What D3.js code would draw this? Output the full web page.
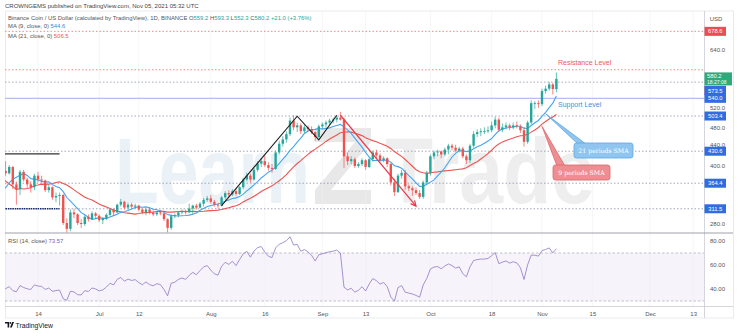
<!DOCTYPE html>
<html><head><meta charset="utf-8">
<script src="https://cdn.jsdelivr.net/npm/d3@7"></script>
<style>
body{margin:0;background:#fff;}
svg{display:block;font-family:"Liberation Sans",Arial,sans-serif;}
</style></head><body>
<svg id="chart" width="740" height="336"></svg>
<script>
// BNB/USD daily candles, [open, high, low, close], one list per month
const firstDay = "2021-05-15";
const may = [
  [590,600,540,555],[555,570,490,520],[520,525,440,470],[470,510,465,490],[490,495,211,340],
  [340,400,300,390],[390,400,300,340],[340,345,305,325],[325,330,230,285],[285,355,280,345],
  [345,350,315,335],[335,370,330,360],[360,365,335,345],[345,350,300,305],[305,320,285,295],
  [295,320,290,315],[315,355,310,350]
];
const jun = [
  [350,360,335,340],[340,405,338,400],[400,425,395,415],[415,418,375,390],[390,410,380,385],
  [385,402,382,398],[398,400,352,362],[362,368,320,352],[352,392,340,388],[388,392,368,372],
  [372,376,355,362],[362,368,345,356],[356,384,350,380],[380,388,366,372],[372,380,365,370],
  [370,372,346,350],[350,362,345,356],[356,358,330,335],[335,345,325,338],[338,345,318,340],
  [340,342,278,282],[282,292,250,270],[270,310,265,304],[304,312,292,300],[300,302,278,282],
  [282,290,272,280],[280,298,276,295],[295,300,285,290],[290,306,288,302],[302,305,290,297]
];
const jul = [
  [297,300,284,288],[288,294,280,291],[291,302,288,299],[299,312,296,310],[310,312,298,304],
  [304,322,302,320],[320,332,316,326],[326,328,310,314],[314,324,310,320],[320,324,312,316],
  [316,322,312,318],[318,320,306,310],[310,312,300,304],[304,312,298,310],[310,314,300,303],
  [303,308,296,300],[300,306,297,304],[304,308,298,302],[302,304,286,290],[290,292,262,272],
  [272,300,268,296],[296,302,292,298],[298,306,294,304],[304,310,300,307],[307,310,300,304],
  [304,322,302,312],[312,320,300,318],[318,322,310,314],[314,326,312,322],[322,334,316,330],
  [330,338,326,333]
];
const aug = [
  [333,340,322,326],[326,330,316,320],[320,324,312,318],[318,338,316,335],[335,348,330,344],
  [344,350,336,341],[341,352,338,348],[348,352,338,342],[342,358,340,356],[356,376,352,372],
  [372,386,368,380],[380,384,366,372],[372,396,370,392],[392,410,388,405],[405,416,398,410],
  [410,422,398,402],[402,408,390,396],[396,404,386,394],[394,432,392,428],[428,452,424,446],
  [446,462,440,455],[455,472,448,466],[466,500,462,494],[494,505,474,480],[480,490,470,484],
  [484,488,466,472],[472,486,468,480],[480,484,470,476],[476,482,466,470],[470,472,452,460],
  [460,486,458,482]
];
const sep = [
  [482,490,476,486],[486,494,480,490],[490,498,484,494],[494,500,488,496],[496,504,490,500],
  [500,512,494,496],[496,500,396,420],[420,428,402,410],[410,420,404,414],[414,418,396,400],
  [400,408,396,404],[404,416,400,412],[412,414,392,398],[398,418,396,414],[414,432,410,428],
  [428,434,416,422],[422,426,408,412],[412,420,408,416],[416,418,398,404],[404,406,360,366],
  [366,374,338,346],[346,384,344,380],[380,392,374,386],[386,392,350,358],[358,362,348,354],
  [354,358,338,350],[350,356,340,344],[344,350,332,336],[336,370,332,366],[366,390,362,386]
];
const oct = [
  [386,424,380,420],[420,432,414,428],[428,434,420,430],[430,432,416,424],[424,438,420,434],
  [434,446,424,442],[442,446,432,438],[438,444,428,432],[432,440,428,436],[436,440,416,420],
  [420,424,404,412],[412,446,406,442],[442,472,438,466],[466,476,460,470],[470,478,462,472],
  [472,480,466,472],[472,482,468,474],[474,492,470,484],[484,502,478,496],[496,500,472,475],
  [475,488,470,480],[480,490,476,484],[484,488,474,480],[480,490,476,484],[484,492,478,482],
  [482,486,468,474],[474,480,440,450],[450,494,446,490],[490,536,486,530],[530,534,518,530],
  [530,536,520,528]
];
const nov = [
  [528,560,524,555],[555,566,550,560],[560,574,556,568.8],[568.8,572,548,559.2],[559.2,593.3,552.3,580.2]
];

// horizontal price levels drawn on the chart
const levelPrices = [678.6, 599.1, 573.5, 540.0, 503.4, 430.6, 364.4, 311.5];
const priceTicks = [280, 400, 440, 480, 520, 640];
const rsiTicks = [40, 60, 80];
const timeTickDates = ["2021-06-14","2021-07-01","2021-07-12","2021-08-01","2021-08-16","2021-09-01",
  "2021-09-13","2021-10-01","2021-10-18","2021-11-01","2021-11-15","2021-12-01","2021-12-13"];
const timeTickLabels = ["14","Jul","12","Aug","16","Sep","13","Oct","18","Nov","15","Dec","13"];

// drawn annotations, in [date, price]
const mPattern = [["2021-08-04",318],["2021-08-25",503],["2021-08-31",454],["2021-09-05",505]];
const dropLine = [["2021-09-06",505],["2021-09-27",317]];
const leftRayA = [["2021-05-20",425],["2021-06-20",425]];
const leftRayB = [["2021-05-20",311.5],["2021-06-20",311.5]];
const blueTip = ["2021-11-02",508];
const redTip = ["2021-11-01",482];

const candles = [].concat(may, jun, jul, aug, sep, oct, nov);
const start = new Date(firstDay);
const rows = candles.map((c, i) => ({date: d3.utcDay.offset(start, i), o:c[0], h:c[1], l:c[2], c:c[3]}));
const closes = rows.map(r => r.c);

function sma(vals, n){
  return vals.map((v,i) => i < n-1 ? null : d3.mean(vals.slice(i-n+1, i+1)));
}
function rsi(vals, n){
  const out = vals.map(() => null);
  let g = 0, l = 0;
  for (let i = 1; i <= n; i++){ const d = vals[i]-vals[i-1]; g += Math.max(d,0); l += Math.max(-d,0); }
  g /= n; l /= n;
  out[n] = 100 - 100/(1+g/l);
  for (let i = n+1; i < vals.length; i++){
    const d = vals[i]-vals[i-1];
    g = (g*(n-1) + Math.max(d,0))/n;
    l = (l*(n-1) + Math.max(-d,0))/n;
    out[i] = l === 0 ? 100 : 100 - 100/(1+g/l);
  }
  return out;
}
const ma9 = sma(closes, 9), ma21 = sma(closes, 21), rsi14 = rsi(closes, 14);

const svg = d3.select("#chart");
const W = 740, H = 336;
const L = 5, R = 704, PT = 11, PB = 232.5, RT = 233, RB = 306;

const x = d3.scaleUtc().domain([new Date("2021-06-14"), new Date("2021-12-13")]).range([38, 693.2]);
const y = d3.scaleLinear().domain([280, 640]).range([224, 50]);
const yr = d3.scaleLinear().domain([40, 80]).range([289, 241]);
const pd = d => new Date(d);

const GREEN = "#26a69a", RED = "#ef5350", MARED = "#ef5350";

const defs = svg.append("defs");
defs.append("clipPath").attr("id","pclip").append("rect").attr("x",L).attr("y",PT).attr("width",R-L).attr("height",PB-PT);
defs.append("clipPath").attr("id","rclip").append("rect").attr("x",L).attr("y",RT).attr("width",R-L).attr("height",RB-RT);

svg.append("rect").attr("width",W).attr("height",H).attr("fill","#fff");

// RSI band
svg.append("rect").attr("x",L).attr("y",yr(70)).attr("width",R-L).attr("height",yr(30)-yr(70))
  .attr("fill","#7e57c2").attr("fill-opacity",0.07);

// watermark
const wm = svg.append("g").attr("clip-path","url(#pclip)");
wm.append("text").attr("x",115).attr("y",203).attr("font-size",92).attr("font-weight","bold")
  .attr("textLength",195).attr("lengthAdjust","spacingAndGlyphs").attr("fill","#d6e4f0").attr("fill-opacity",0.5).text("Learn");
wm.append("text").attr("x",385).attr("y",203).attr("font-size",92).attr("font-weight","bold")
  .attr("textLength",210).attr("lengthAdjust","spacingAndGlyphs").attr("fill","#dadada").attr("fill-opacity",0.45).text("Trade");
wm.append("path").attr("d","M315,128 H371 V142 L331,190 H371 V204 H315 V190 L355,142 H315 Z")
  .attr("fill","#d2d2d2").attr("fill-opacity",0.5);

// vertical grid
svg.append("g").selectAll("line").data(timeTickDates).join("line")
  .attr("x1",d=>x(pd(d))).attr("x2",d=>x(pd(d))).attr("y1",PT).attr("y2",RB)
  .attr("stroke","#eef0f4").attr("stroke-width",0.6);

// frame
svg.append("rect").attr("x",L+0.5).attr("y",PT).attr("width",728).attr("height",318-PT)
  .attr("fill","none").attr("stroke","#e3e6ec").attr("stroke-width",0.8);
svg.append("line").attr("x1",R+0.5).attr("x2",R+0.5).attr("y1",PT).attr("y2",318).attr("stroke","#c9ccd3").attr("stroke-width",0.8);
svg.append("line").attr("x1",L).attr("x2",733).attr("y1",PB+0.5).attr("y2",PB+0.5).attr("stroke","#9da1a9").attr("stroke-width",1);
svg.append("line").attr("x1",L).attr("x2",733).attr("y1",RB+0.5).attr("y2",RB+0.5).attr("stroke","#c9ccd3").attr("stroke-width",0.8);

const pg = svg.append("g").attr("clip-path","url(#pclip)");

// level lines
pg.selectAll("line.level").data(levelPrices).join("line").attr("class","level")
  .attr("x1",L).attr("x2",R).attr("y1",d=>y(d)).attr("y2",d=>y(d))
  .attr("stroke",d=> d > 590 ? "#f06a6a" : (d === 540 ? "#b7bdf0" : "#8a93a8"))
  .attr("stroke-width",d=> d === 540 ? 1.4 : 0.8)
  .attr("stroke-dasharray",d=> d === 540 ? null : "1.5,2");

// short rays on the left
const ptXY = p => [x(pd(p[0])), y(p[1])];
pg.append("path").attr("d",d3.line()(leftRayA.map(ptXY))).attr("stroke","#333").attr("stroke-width",1.2).attr("fill","none");
pg.append("path").attr("d",d3.line()(leftRayB.map(ptXY))).attr("stroke","#1a2a6c").attr("stroke-width",1.6).attr("stroke-dasharray","1.5,0.8").attr("fill","none");

// moving averages
const maLine = d3.line().defined(d=>d.v!=null).x(d=>x(d.date)).y(d=>y(d.v));
pg.append("path").attr("d",maLine(rows.map((r,i)=>({date:r.date,v:ma21[i]}))))
  .attr("fill","none").attr("stroke",MARED).attr("stroke-width",1.1);
pg.append("path").attr("d",maLine(rows.map((r,i)=>({date:r.date,v:ma9[i]}))))
  .attr("fill","none").attr("stroke","#42a5f5").attr("stroke-width",1.1);

// candles
const bw = 2.4;
const cg = pg.append("g");
cg.selectAll("line").data(rows).join("line")
  .attr("x1",d=>x(d.date)).attr("x2",d=>x(d.date)).attr("y1",d=>y(d.h)).attr("y2",d=>y(d.l))
  .attr("stroke",d=>d.c>=d.o?GREEN:RED).attr("stroke-width",0.7);
cg.selectAll("rect").data(rows).join("rect")
  .attr("x",d=>x(d.date)-bw/2).attr("width",bw)
  .attr("y",d=>y(Math.max(d.o,d.c))).attr("height",d=>Math.max(0.8,Math.abs(y(d.o)-y(d.c))))
  .attr("fill",d=>d.c>=d.o?GREEN:RED);

// pattern lines
pg.append("path").attr("d",d3.line()(mPattern.map(ptXY))).attr("fill","none").attr("stroke","#1b1b1b").attr("stroke-width",1.1);
const dl = dropLine.map(ptXY);
pg.append("path").attr("d",d3.line()(dl)).attr("fill","none").attr("stroke","#e8394a").attr("stroke-width",1.2);
{
  const [x0,y0] = dl[0], [x1,y1] = dl[1];
  const a = Math.atan2(y1-y0, x1-x0), s = 6;
  const p1 = [x1 - s*Math.cos(a-0.45), y1 - s*Math.sin(a-0.45)];
  const p2 = [x1 - s*Math.cos(a+0.45), y1 - s*Math.sin(a+0.45)];
  pg.append("path").attr("d",`M${p1}L${x1},${y1}L${p2}`).attr("fill","none").attr("stroke","#e8394a").attr("stroke-width",1.2);
}

// callouts
function callout(tip, bx, by, bwid, bh, fill, stroke, label){
  const [tx,ty] = ptXY(tip);
  const g = svg.append("g");
  g.append("path").attr("d",`M${tx},${ty}L${bx+4},${by+1}L${bx+12},${by+1}Z`).attr("fill",fill).attr("stroke",stroke).attr("stroke-width",0.8);
  g.append("rect").attr("x",bx).attr("y",by).attr("width",bwid).attr("height",bh).attr("rx",2.5)
    .attr("fill",fill).attr("stroke",stroke).attr("stroke-width",0.8);
  g.append("text").attr("x",bx+bwid/2).attr("y",by+bh/2+2.2).attr("text-anchor","middle")
    .attr("font-family","'DejaVu Serif','Liberation Serif',serif").attr("font-size",6.2).attr("fill","#fff").text(label);
}
callout(blueTip, 574, 143, 59, 15, "#8fc5ef", "#5aa7e4", "21 periods SMA");
callout(redTip, 553, 165, 57, 15, "#ef8e92", "#e0646b", "9 periods SMA");

// level captions
svg.append("text").attr("x",558).attr("y",64.5).attr("font-size",7).attr("fill","#f0575f").text("Resistance Level");
svg.append("text").attr("x",558).attr("y",106.5).attr("font-size",7).attr("fill","#3d8fe0").text("Support Level");

// RSI pane
const rg = svg.append("g").attr("clip-path","url(#rclip)");
rg.selectAll("line").data([70,30]).join("line").attr("x1",L).attr("x2",R).attr("y1",d=>yr(d)).attr("y2",d=>yr(d))
  .attr("stroke","#a9a9b4").attr("stroke-width",0.7).attr("stroke-dasharray","2.5,2");
rg.append("path").attr("d",d3.line().defined(d=>d.v!=null).x(d=>x(d.date)).y(d=>yr(d.v))(rows.map((r,i)=>({date:r.date,v:rsi14[i]}))))
  .attr("fill","none").attr("stroke","#8e79c4").attr("stroke-width",0.8);

// price axis
const fmt = d3.format(".1f");
const pax = svg.append("g").attr("transform",`translate(${R},0)`)
  .call(d3.axisRight(y).tickValues(priceTicks).tickFormat(fmt).tickSize(0));
pax.select(".domain").remove();
pax.selectAll("text").attr("x",6).attr("font-size",6).attr("fill","#555").attr("font-family","'Liberation Sans',Arial,sans-serif")
  .attr("dy",d => d === 440 ? "-0.1em" : "0.32em");
const rax = svg.append("g").attr("transform",`translate(${R},0)`)
  .call(d3.axisRight(yr).tickValues(rsiTicks).tickFormat(d3.format(".2f")).tickSize(0));
rax.select(".domain").remove();
rax.selectAll("text").attr("x",6).attr("font-size",6).attr("fill","#555").attr("font-family","'Liberation Sans',Arial,sans-serif");

svg.append("text").attr("x",716).attr("y",21).attr("text-anchor","middle").attr("font-size",6).attr("fill","#555").text("USD");

// level tags on the axis
const last = rows[rows.length-1];
const curY = y(last.c);
const curTop = curY - 6.5, curBot = curY + 6.5;
levelPrices.forEach(p => {
  let cy = y(p);
  if (cy + 4.5 > curTop && cy - 4.5 < curBot) cy = curBot + 5;
  const col = p > 590 ? "#ef4b53" : "#2f6de1";
  svg.append("rect").attr("x",R+0.5).attr("y",cy-4.5).attr("width",21.5).attr("height",9).attr("fill",col);
  svg.append("text").attr("x",R+11.2).attr("y",cy+2.1).attr("text-anchor","middle").attr("font-size",5.8).attr("fill","#fff").text(fmt(p));
});
svg.append("rect").attr("x",R+0.5).attr("y",curTop).attr("width",27.5).attr("height",13).attr("fill","#2fa87a");
svg.append("text").attr("x",R+3).attr("y",curTop+5.6).attr("font-size",5.8).attr("fill","#fff").text(fmt(last.c));
svg.append("text").attr("x",R+3).attr("y",curTop+11.4).attr("font-size",5).attr("fill","#fff").text("18:27:08");

// time axis
const tax = svg.append("g").attr("transform",`translate(0,${RB})`)
  .call(d3.axisBottom(x).tickValues(timeTickDates.map(pd)).tickFormat((d,i)=>timeTickLabels[i]).tickSize(0));
tax.select(".domain").remove();
tax.selectAll("text").attr("dy",0).attr("y",9.5).attr("font-size",6).attr("fill","#555").attr("font-family","'Liberation Sans',Arial,sans-serif");

// legends
const legend = (yy, parts) => {
  const t = svg.append("text").attr("x",8).attr("y",yy).attr("font-size",5.9);
  parts.forEach(([s,c]) => t.append("tspan").attr("fill",c).text(s));
};
svg.append("text").attr("x",5).attr("y",8).attr("font-size",6).attr("fill","#444")
  .text("CROWNGEMS published on TradingView.com, Nov 05, 2021 05:32 UTC");
const chg = last.c - last.o;
const sgn = v => (v >= 0 ? "+" : "\u2212") + Math.abs(v).toFixed(1);
const lc = chg >= 0 ? "#26a69a" : "#ef5350";
legend(19.5, [["Binance Coin / US Dollar (calculated by TradingView), 1D, BINANCE  ","#555"],
  ["O","#555"],[fmt(last.o)+" ",lc],["H","#555"],[fmt(last.h)+" ",lc],["L","#555"],[fmt(last.l)+" ",lc],
  ["C","#555"],[fmt(last.c)+" ",lc],[sgn(chg)+" ("+(chg>=0?"+":"\u2212")+Math.abs(chg/last.o*100).toFixed(2)+"%)",lc]]);
legend(28, [["MA (9, close, 0)  ","#555"],[fmt(ma9[ma9.length-1]),"#2a8fe0"]]);
legend(37.5, [["MA (21, close, 0)  ","#555"],[fmt(ma21[ma21.length-1]),"#ef5350"]]);
legend(242.5, [["RSI (14, close)  ","#555"],[d3.format(".2f")(rsi14[rsi14.length-1]),"#7e57c2"]]);

// footer logo
const lg = svg.append("g").attr("transform","translate(5,322)");
lg.append("path").attr("d","M0,0H4.2V5.5H2.6V1.5H0Z").attr("fill","#131722");
lg.append("circle").attr("cx",5.4).attr("cy",0.9).attr("r",0.9).attr("fill","#131722");
lg.append("path").attr("d","M5,5.5L7.2,0H9L6.8,5.5Z").attr("fill","#131722");
svg.append("text").attr("x",15.5).attr("y",327.5).attr("font-size",6.8).attr("fill","#131722").text("TradingView");
</script>
</body></html>
